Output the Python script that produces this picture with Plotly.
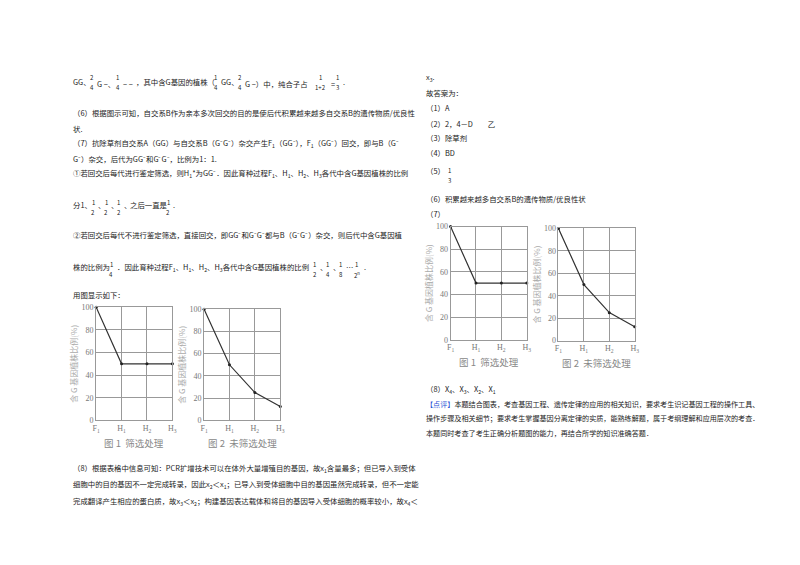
import plotly.graph_objects as go

W, H = 800, 565
cats = ["F1", "H1", "H2", "H3"]
cat_labels = ["F<sub>1</sub>", "H<sub>1</sub>", "H<sub>2</sub>", "H<sub>3</sub>"]
screened = [100, 50, 50, 50]
unscreened = [100, 50, 25, 12.5]
yticks = [0, 20, 40, 60, 80, 100]
ytitle = "含 G 基因植株比例(%)"
cap1 = "图 1  筛选处理"
cap2 = "图 2  未筛选处理"

FONT = "Noto Sans CJK SC, serif"
FS = 7.4
fig = go.Figure()

def px(x): return x / W
def py(y): return 1 - y / H

boxes = [(85, 162, 300, 415), (194, 271, 302, 415), (443, 520, 218, 333), (552, 629, 220, 334)]
series = [screened, unscreened, screened, unscreened]
caps = [cap1, cap2, cap1, cap2]
ann = []
for i, (b, s, c) in enumerate(zip(boxes, series, caps)):
    n = "" if i == 0 else str(i + 1)
    fig.add_trace(go.Scatter(x=list(range(len(cats))), y=s, mode="lines+markers",
                             line=dict(color="#333", width=1.2), marker=dict(size=3, color="#222"),
                             cliponaxis=False, xaxis="x" + n, yaxis="y" + n, showlegend=False))
    ax = dict(domain=[px(b[0]), px(b[1])], range=[0, 3], tickvals=list(range(4)), ticktext=cat_labels,
              showgrid=True, gridcolor="#999", gridwidth=0.8, zeroline=False, showline=True,
              linecolor="#999", mirror=True, tickfont=dict(size=8, color="#777", family="Liberation Serif"),
              anchor="y" + n, ticks="", fixedrange=True)
    ay = dict(domain=[py(b[3]), py(b[2])], range=[0, 100], tickvals=yticks, showgrid=True,
              gridcolor="#999", gridwidth=0.8, zeroline=False, showline=True, linecolor="#999", mirror=True,
              tickfont=dict(size=8, color="#777", family="Liberation Serif"), anchor="x" + n, ticks="",
              title=dict(text=ytitle, font=dict(size=8, color="#aaa", family=FONT), standoff=2))
    fig.update_layout(**{"xaxis" + n: ax, "yaxis" + n: ay})
    ann.append(dict(x=px((b[0] + b[1]) / 2), y=py(b[3] + 23), text=c, showarrow=False,
                    xref="paper", yref="paper",
                    font=dict(size=9.5, color="#888", family=FONT), xanchor="center", yanchor="middle"))

def t(x, y, s, size=FS, color="#222"):
    ann.append(dict(x=px(x), y=py(y), text=s, showarrow=False, xanchor="left", yanchor="middle",
                    xref="paper", yref="paper", font=dict(size=size, color=color, family=FONT)))

def frac(x, y, a, b):
    for yy, s in ((y - 5, a), (y + 5, b)):
        ann.append(dict(x=px(x), y=py(yy), text=s, showarrow=False, xanchor="center", yanchor="middle",
                        xref="paper", yref="paper", font=dict(size=6, color="#222", family=FONT)))

S1, S2, S3 = "<sub>1</sub>", "<sub>2</sub>", "<sub>3</sub>"
# left column
t(60, 71, "GG、")
frac(81, 72, "2", "4"); t(84, 73, "G −、")
frac(107, 72, "1", "4"); t(110, 73, "− −")
t(123, 71, "，其中含G基因的植株（")
frac(206, 72, "1", "4"); t(209, 71, "GG、")
frac(230, 72, "2", "4"); t(233, 73, "G −）中，纯合子占")
frac(312, 72, "1", "1+2"); t(320, 73, "=")
frac(329, 72, "1", "3"); t(332, 71, ".")
t(60, 102, "（6）根据图示可知，自交系B作为亲本多次回交的目的是使后代积累越来越多自交系B的遗传物质/优良性")
t(60, 118, "状.")
t(60, 133, f"（7）抗除草剂自交系A（GG）与自交系B（G⁻G⁻）杂交产生F{S1}（GG⁻），F{S1}（GG⁻）回交，即与B（G⁻")
t(60, 149, "G⁻）杂交，后代为GG⁻和G⁻G⁻，比例为1：1.")
t(60, 164, f"①若回交后每代进行鉴定筛选，则H{S1}*为GG⁻．因此育种过程F{S1}、H{S1}、H{S2}、H{S3}各代中含G基因植株的比例")
t(60, 196, "分1、")
for xx in (82, 95, 108):
    frac(xx, 199, "1", "2"); t(xx + 3, 196, "、")
t(117, 196, "之后一直是")
frac(158, 199, "1", "2"); t(161, 196, ".")
t(60, 226, "②若回交后每代不进行鉴定筛选，直接回交，即GG⁻和G⁻G⁻都与B（G⁻G⁻）杂交，则后代中含G基因植")
t(60, 259, "株的比例为")
frac(100, 262, "1", "4")
t(104, 259, f"．因此育种过程F{S1}、H{S1}、H{S2}、H{S3}各代中含G基因植株的比例")
frac(306, 262, "1", "2"); t(309, 259, "、")
frac(319, 262, "1", "4"); t(322, 259, "、")
frac(332, 262, "1", "8"); t(335, 259, "…")
frac(348, 262, "1", "2<sup>n</sup>"); t(354, 259, ".")
t(60, 287, "用图显示如下：")
t(60, 463, f"（8）根据表格中信息可知：PCR扩增技术可以在体外大量增殖目的基因，故x{S1}含量最多；但已导入到受体")
t(60, 480, f"细胞中的目的基因不一定完成转录，因此x{S2}＜x{S1}；已导入到受体细胞中目的基因虽然完成转录，但不一定能")
t(60, 497, f"完成翻译产生相应的蛋白质，故x{S3}＜x{S2}；构建基因表达载体和将目的基因导入受体细胞的概率较小，故x<sub>4</sub>＜")

# right column
t(416, 66, f"x{S3}.")
t(416, 82, "故答案为：")
t(416, 97, "（1）A")
t(416, 113, "（2）2，4－D　　乙")
t(416, 128, "（3）除草剂")
t(416, 143, "（4）BD")
t(416, 161, "（5）")
frac(442, 166, "1", "3")
t(416, 190, "（6）积累越来越多自交系B的遗传物质/优良性状")
t(416, 205, "（7）")
t(416, 383, "（8）X<sub>4</sub>、X<sub>3</sub>、X<sub>2</sub>、X<sub>1</sub>")
t(416, 398, "<span style='color:#1f4fd6'>【点评】</span>本题结合图表，考查基因工程、遗传定律的应用的相关知识，要求考生识记基因工程的操作工具、", size=7.1)
t(416, 413, "操作步骤及相关细节；要求考生掌握基因分离定律的实质，能熟练解题，属于考纲理解和应用层次的考查．", size=7.1)
t(416, 428, "本题同时考查了考生正确分析题图的能力，再结合所学的知识准确答题．", size=7.1)

fig.update_layout(width=W, height=H, margin=dict(l=0, r=0, t=0, b=0), paper_bgcolor="white",
                  plot_bgcolor="white", annotations=ann, showlegend=False)
fig.write_html("out.html")
